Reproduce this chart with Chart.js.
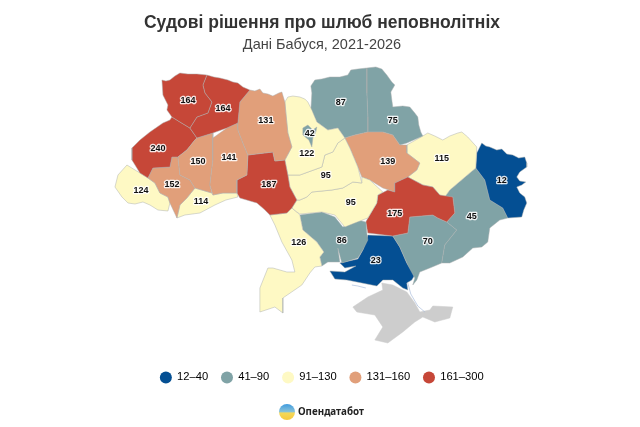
<!DOCTYPE html>
<html>
<head>
<meta charset="utf-8">
<style>
  html, body { margin: 0; padding: 0; background: #fff; }
  canvas { display: block; }
</style>
<script src="https://cdn.jsdelivr.net/npm/chart.js@4"></script>
</head>
<body>
<canvas id="map" width="640" height="427"></canvas>
<script>
const regions = ['Волинська','Рівненська','Житомирська','Хмельницька','Тернопільська','Львівська','Івано-Франківська','Закарпатська','Чернівецька','Вінницька','Київська','Київ','Черкаська','Кіровоградська','Одеська','Миколаївська','Дніпропетровська','Полтавська','Чернігівська','Сумська','Харківська','Луганська','Донецька','Запорізька','Херсонська'];
const values = [164,164,131,141,150,240,152,124,114,187,122,42,95,95,126,86,175,139,87,75,115,12,45,70,23];
const labelSpots = [[188,101],[223,109],[266,121],[229,158],[198,162],[158,149],[172,185],[141,191],[201,202],[269,185],[307,154],[310,134],[326,176],[351,203],[299,243],[342,241],[395,214],[388,162],[341,103],[393,121],[442,159],[502,181],[472,217],[428,242],[376,261]];

const volyn = [[162,80],[166,81],[170,80],[175,76],[180,73],[188,74],[197,74],[207,75],[203,85],[205,93],[212,102],[208,113],[197,117],[190,128],[180,122],[172,117],[167,110],[168,105],[163,95]];
const rivne = [[207,75],[214,77],[220,78],[228,80],[233,82],[238,83],[243,87],[250,90],[240,102],[238,123],[227,128],[213,133],[197,138],[190,128],[197,117],[208,113],[212,102],[205,93],[203,85]];
const zhytomyr = [[250,90],[255,91],[260,89],[263,93],[268,94],[273,96],[279,93],[282,92],[285,102],[286,113],[288,133],[292,147],[285,160],[275,161],[273,152],[248,155],[243,143],[238,130],[238,123],[240,102]];
const khmelnytskyi = [[213,138],[227,128],[238,123],[238,130],[243,143],[248,155],[247,175],[237,180],[237,193],[223,193],[213,195],[210,185],[213,160]];
const ternopil = [[197,138],[213,133],[213,138],[213,160],[210,185],[212,193],[195,188],[190,180],[180,175],[178,157],[187,150],[195,140]];
const lviv = [[172,117],[170,120],[163,123],[150,132],[140,140],[132,148],[132,160],[140,173],[148,178],[153,168],[170,167],[172,157],[178,157],[187,150],[195,140],[197,138],[190,128],[180,122]];
const frankivsk = [[148,178],[153,168],[170,167],[172,157],[178,157],[180,175],[190,180],[195,188],[187,198],[180,205],[177,218],[170,203],[168,197],[160,193],[155,183]];
const zakarpattia = [[127,165],[140,173],[148,178],[155,183],[160,193],[168,197],[170,203],[168,211],[158,210],[150,205],[143,202],[135,204],[128,203],[122,197],[115,187],[118,175]];
const chernivtsi = [[177,218],[180,205],[187,198],[195,188],[212,193],[213,195],[223,193],[237,193],[238,197],[226,200],[215,205],[200,213],[185,215]];
const vinnytsia = [[248,155],[273,152],[275,161],[285,160],[288,175],[290,187],[297,200],[292,208],[287,213],[270,215],[264,209],[257,203],[240,198],[237,193],[237,180],[247,175]];
const kyivObl = [[285,102],[288,97],[293,96],[300,97],[305,99],[308,102],[312,110],[317,122],[328,130],[338,128],[345,138],[338,143],[333,152],[325,155],[322,167],[300,175],[288,175],[285,160],[292,147],[288,133],[286,113]];
const kyivCity = [[303,128],[308,125],[313,130],[317,127],[316,132],[313,138],[312,147],[309,140],[303,135]];
const cherkasy = [[288,175],[300,175],[322,167],[325,155],[333,152],[338,143],[345,138],[350,148],[358,167],[362,183],[353,182],[343,188],[332,190],[312,192],[307,197],[300,200],[297,200],[290,187]];
const kirovohrad = [[297,200],[300,200],[307,197],[312,192],[332,190],[343,188],[353,182],[362,183],[362,177],[370,180],[383,192],[378,195],[377,203],[368,218],[355,223],[345,227],[335,215],[322,212],[300,214],[297,212],[292,208]];
const odesa = [[270,215],[287,213],[292,208],[297,212],[300,215],[303,230],[317,242],[324,252],[320,257],[322,266],[315,267],[310,273],[302,285],[283,298],[283,313],[275,307],[260,312],[260,288],[268,268],[273,268],[287,272],[295,272],[292,260],[282,242],[275,225]];
const mykolaiv = [[300,215],[322,212],[335,217],[343,227],[358,220],[366,222],[367,233],[368,240],[363,250],[358,258],[342,263],[338,248],[340,262],[328,262],[322,266],[320,257],[324,252],[317,242],[303,230]];
const dnipro = [[395,183],[408,177],[423,185],[433,187],[440,195],[453,197],[455,213],[447,222],[438,218],[433,215],[410,217],[408,233],[393,236],[368,233],[366,222],[367,220],[377,203],[378,195],[388,190],[395,192]];
const poltava = [[345,138],[355,135],[368,132],[383,132],[393,135],[400,145],[407,145],[407,153],[420,163],[417,170],[408,177],[395,183],[395,192],[383,188],[370,180],[362,177],[358,167],[350,148]];
const chernihiv = [[312,93],[311,86],[315,80],[322,79],[330,77],[340,77],[348,75],[351,70],[358,69],[367,68],[367,93],[368,117],[368,132],[355,135],[345,138],[338,128],[328,130],[317,122],[311,110]];
const sumy = [[367,68],[376,67],[382,69],[387,75],[392,82],[395,85],[391,92],[392,100],[393,107],[403,106],[410,107],[415,113],[418,117],[419,125],[421,132],[423,136],[407,143],[400,145],[393,135],[383,132],[368,132],[368,117],[367,93]];
const kharkiv = [[423,136],[428,133],[435,136],[443,140],[450,136],[458,133],[462,132],[468,137],[477,147],[476,168],[470,173],[450,190],[445,197],[440,195],[433,187],[423,185],[408,177],[417,170],[420,163],[407,153],[407,145]];
const luhansk = [[482,143],[486,146],[490,147],[497,150],[502,149],[507,154],[513,155],[519,158],[525,157],[527,163],[527,167],[520,172],[517,177],[520,181],[526,182],[522,185],[517,187],[520,193],[525,197],[527,203],[524,210],[522,217],[508,218],[503,208],[490,200],[485,180],[476,168],[477,153]];
const donetsk = [[476,168],[485,180],[490,200],[503,208],[508,218],[500,220],[490,228],[488,242],[482,247],[473,248],[463,257],[450,263],[442,263],[445,245],[457,230],[447,222],[455,213],[453,197],[445,197],[450,190],[470,173]];
const zaporizhzhia = [[393,236],[408,233],[410,217],[433,215],[438,218],[447,222],[457,230],[445,245],[442,263],[430,268],[420,272],[417,280],[413,285],[415,278],[408,265],[400,247]];
const kherson = [[368,235],[393,236],[400,247],[407,263],[415,275],[412,280],[407,283],[408,290],[403,288],[393,280],[383,280],[377,286],[357,282],[347,280],[335,279],[330,271],[345,272],[356,266],[345,268],[340,263],[358,259],[363,250]];
const crimea = [[382,283],[393,285],[407,292],[415,303],[420,312],[430,310],[433,306],[453,307],[450,318],[435,322],[423,317],[415,322],[403,332],[388,343],[375,340],[383,327],[375,315],[357,312],[353,307],[368,297],[383,290]];
const arabatSpit = [[408,283],[411,294],[418,306],[425,312]];
const tendraSpit = [[352,285],[358,286],[366,288]];

const outlines = [volyn,rivne,zhytomyr,khmelnytskyi,ternopil,lviv,frankivsk,zakarpattia,chernivtsi,vinnytsia,kyivObl,kyivCity,cherkasy,kirovohrad,odesa,mykolaiv,dnipro,poltava,chernihiv,sumy,kharkiv,luhansk,donetsk,zaporizhzhia,kherson];

const binLabels = ['12–40','41–90','91–130','131–160','161–300'];
const binTops = [40,90,130,160,300];
const binColors = ['#044f93','#80a3a6','#fef9c4','#e19f7a','#c64738'];
const noDataColor = '#cdcdcd';

function colorFor(v) {
  return binColors[binTops.findIndex(t => v <= t)];
}

function toPoints(outline) {
  const pts = outline.map(p => ({ x: p[0], y: p[1] }));
  pts.push(pts[0]);
  return pts;
}

const datasets = regions.map((name, i) => ({
  label: name,
  data: toPoints(outlines[i]),
  showLine: true,
  fill: 'shape',
  tension: 0,
  pointRadius: 0,
  borderWidth: 0.6,
  borderColor: 'rgba(170,175,175,0.8)',
  backgroundColor: colorFor(values[i]),
  order: i === 11 ? 0 : 1
}));
datasets.push({
  label: 'Крим',
  data: toPoints(crimea),
  showLine: true,
  fill: 'shape',
  tension: 0,
  pointRadius: 0,
  borderWidth: 0.5,
  borderColor: noDataColor,
  backgroundColor: noDataColor,
  order: 2
});
[arabatSpit, tendraSpit].forEach(spit => {
  datasets.push({
    label: 'Коса',
    data: spit.map(p => ({ x: p[0], y: p[1] })),
    showLine: true,
    tension: 0,
    pointRadius: 0,
    borderWidth: 0.6,
    borderColor: '#9db4d6',
    order: 0
  });
});

// region numbers and the logo at the bottom
const mapText = {
  id: 'mapText',
  afterDatasetsDraw(chart) {
    const { ctx, scales } = chart;
    ctx.save();
    ctx.font = 'bold 9px "Liberation Sans"';
    ctx.textAlign = 'center';
    ctx.textBaseline = 'middle';
    ctx.lineJoin = 'round';
    values.forEach((v, i) => {
      const x = scales.x.getPixelForValue(labelSpots[i][0]);
      const y = scales.y.getPixelForValue(labelSpots[i][1]);
      ctx.lineWidth = 2.5;
      ctx.strokeStyle = 'rgba(255,255,255,0.85)';
      ctx.strokeText(v, x, y);
      ctx.fillStyle = '#111';
      ctx.fillText(v, x, y);
    });
    const grad = ctx.createLinearGradient(0, 404, 0, 420);
    grad.addColorStop(0, '#3f9be0');
    grad.addColorStop(0.5, '#8cc4d8');
    grad.addColorStop(0.55, '#f5d95a');
    grad.addColorStop(1, '#f7c93e');
    ctx.fillStyle = grad;
    ctx.beginPath();
    ctx.arc(287, 412, 8, 0, Math.PI * 2);
    ctx.fill();
    ctx.fillStyle = '#222';
    ctx.font = 'bold 9.8px "Noto Sans"';
    ctx.textAlign = 'left';
    ctx.fillText('Опендатабот', 298, 412);
    ctx.restore();
  }
};

const chart = new Chart(document.getElementById('map'), {
  type: 'scatter',
  data: { datasets },
  plugins: [mapText],
  options: {
    responsive: false,
    animation: false,
    layout: { padding: { top: 13, bottom: 34, left: 4 } },
    plugins: {
      title: {
        display: true,
        text: 'Судові рішення про шлюб неповнолітніх',
        color: '#333',
        font: { family: '"Liberation Sans"', size: 17.5, weight: 'bold' },
        padding: { top: 0, bottom: 1 }
      },
      subtitle: {
        display: true,
        text: 'Дані Бабуся, 2021-2026',
        color: '#444',
        font: { family: '"Liberation Sans"', size: 14.5, weight: 'normal' },
        padding: { top: 1, bottom: 4 }
      },
      legend: {
        position: 'bottom',
        labels: {
          usePointStyle: true,
          pointStyle: 'circle',
          boxWidth: 11.2,
          boxHeight: 8.5,
          padding: 13.2,
          color: '#444',
          font: { family: '"Liberation Sans"', size: 11.2 },
          generateLabels: () => binLabels.map((text, i) => ({
            text,
            fillStyle: binColors[i],
            strokeStyle: binColors[i],
            lineWidth: 0,
            pointStyle: 'circle',
            datasetIndex: i
          }))
        },
        onClick: null
      },
      tooltip: { enabled: false }
    },
    scales: {
      x: { type: 'linear', display: false, min: 0, max: 640 },
      y: { type: 'linear', display: false, reverse: true, min: 0, max: 427 }
    }
  }
});

// map outlines are read in page pixels, so line the axes up with the plot box
const area = chart.chartArea;
chart.options.scales.x.min = area.left;
chart.options.scales.x.max = area.right;
chart.options.scales.y.min = area.top;
chart.options.scales.y.max = area.bottom;
chart.update();
</script>
</body>
</html>
